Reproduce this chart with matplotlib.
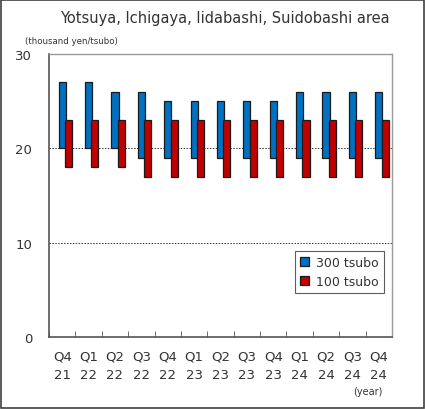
import matplotlib
matplotlib.use("Agg")
import matplotlib.pyplot as plt
import numpy as np
from matplotlib.patches import Rectangle

categories = ["Q4\n21", "Q1\n22", "Q2\n22", "Q3\n22", "Q4\n22", "Q1\n23", "Q2\n23",
              "Q3\n23", "Q4\n23", "Q1\n24", "Q2\n24", "Q3\n24", "Q4\n24"]
t300_low = [20, 20, 20, 19, 19, 19, 19, 19, 19, 19, 19, 19, 19]
t300_high = [27, 27, 26, 26, 25, 25, 25, 25, 25, 26, 26, 26, 26]
t100_low = [18, 18, 18, 17, 17, 17, 17, 17, 17, 17, 17, 17, 17]
t100_high = [23, 23, 23, 23, 23, 23, 23, 23, 23, 23, 23, 23, 23]

plt.rcParams['font.family'] = ['DejaVu Sans']

fig = plt.figure(figsize=(4.25, 4.10), dpi=100)
fig.patches.append(Rectangle((0.002, 0.002), 0.996, 0.996, transform=fig.transFigure,
                             fill=False, edgecolor='#404040', linewidth=1.2))

W, H = 425, 410
ax = fig.add_axes([49 / W, 1 - 338 / H, (392 - 49) / W, (338 - 55) / H])

x = np.arange(len(categories))
bw = 0.27
blue = '#0070C0'
red = '#C00000'
ax.bar(x, np.array(t300_high) - np.array(t300_low), bottom=t300_low, width=bw,
       color=blue, edgecolor='#1a1a1a', linewidth=0.9, zorder=3, label='300 tsubo')
ax.bar(x + 0.24, np.array(t100_high) - np.array(t100_low), bottom=t100_low, width=bw,
       color=red, edgecolor='#1a1a1a', linewidth=0.9, zorder=4, label='100 tsubo')

ax.set_xlim(-0.5, len(categories) - 0.5)
ax.set_ylim(0, 30)
ax.set_yticks([0, 10, 20, 30])
ax.set_yticklabels(['0', '10', '20', '30'], fontsize=9.5, color='#333333')
ax.tick_params(axis='y', length=0, pad=12)
for yv in [10, 20]:
    ax.axhline(yv, color='#333333', linewidth=0.7, linestyle=(0, (1.5, 1.5)), zorder=1)

ax.set_xticks(x)
ax.set_xticklabels(categories, fontsize=9.5, color='#333333', linespacing=1.6)
ax.tick_params(axis='x', length=0, pad=9)
ax.set_xticks(np.arange(len(categories) + 1) - 0.5, minor=True)
ax.tick_params(axis='x', which='minor', direction='in', length=4, color='#555555')

for s in ['left', 'bottom']:
    ax.spines[s].set_color('#555555')
    ax.spines[s].set_linewidth(1.2)
for s in ['top', 'right']:
    ax.spines[s].set_color('#999999')
    ax.spines[s].set_linewidth(1.0)

fig.text(225 / W, 1 - 18 / H, 'Yotsuya, Ichigaya, Iidabashi, Suidobashi area',
         ha='center', va='center', fontsize=10.5, color='#333333')
fig.text(25 / W, 1 - 41 / H, '(thousand yen/tsubo)', ha='left', va='center',
         fontsize=6.2, color='#333333')
fig.text(383 / W, 1 - 392 / H, '(year)', ha='right', va='center',
         fontsize=7, color='#333333')

leg = ax.legend(loc='lower right', bbox_to_anchor=((384 - 49) / (392 - 49), (338 - 294) / (338 - 55)),
                fontsize=9, frameon=True, fancybox=False, edgecolor='#333333',
                handlelength=0.7, handleheight=0.7, handletextpad=0.6,
                borderpad=0.4, labelspacing=0.5, borderaxespad=0)
leg.get_frame().set_linewidth(0.8)
for t in leg.get_texts():
    t.set_color('#333333')

fig.savefig('out.png', dpi=100)
